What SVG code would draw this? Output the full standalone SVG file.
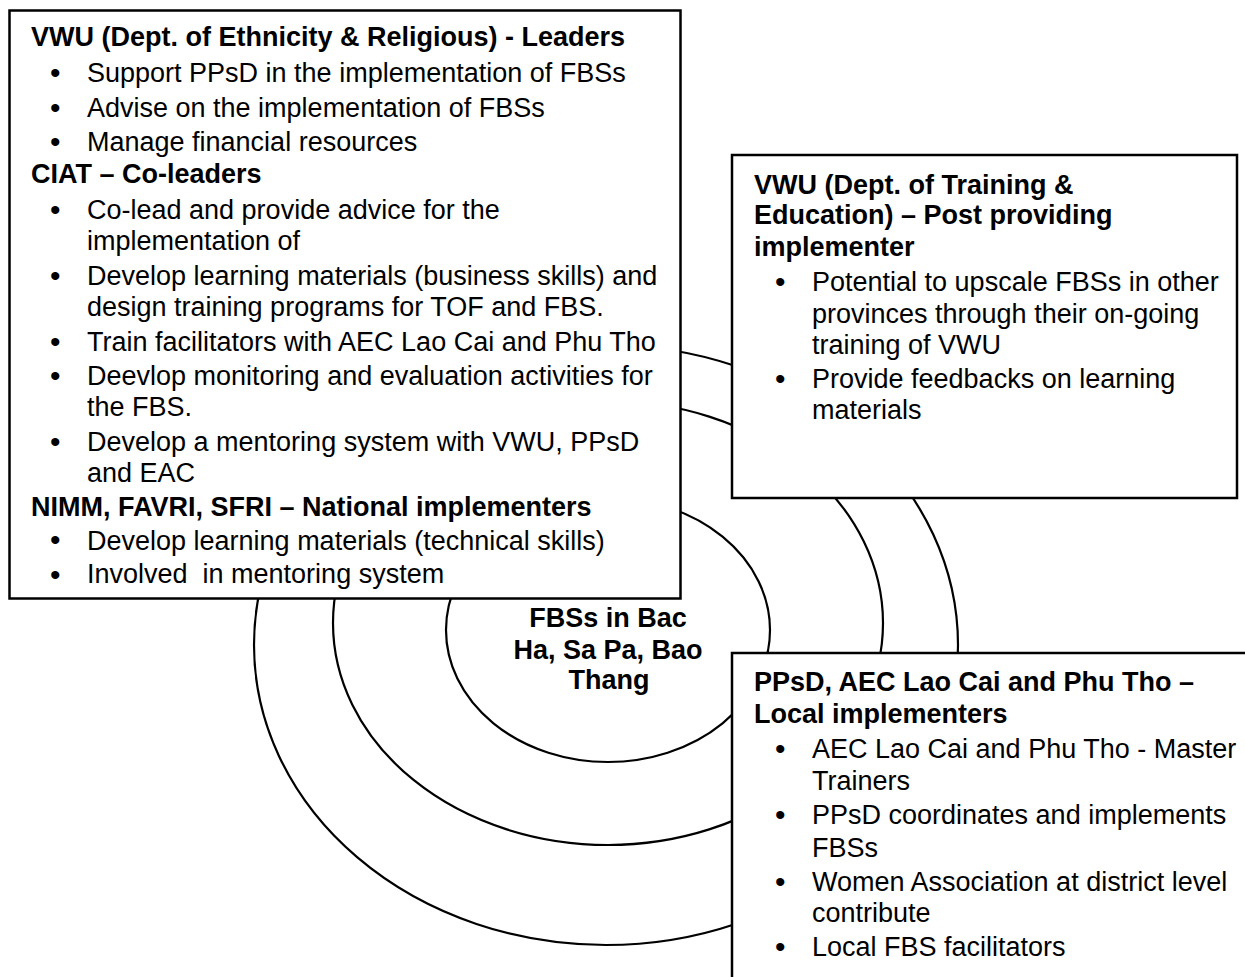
<svg xmlns="http://www.w3.org/2000/svg" width="1245" height="977" viewBox="0 0 1245 977">
<style>
.bg{fill:#ffffff}
.ring{fill:none;stroke:#000;stroke-width:2.2}
.box{fill:#ffffff;stroke:#000;stroke-width:2.5}
text{font-family:"Liberation Sans",Arial,sans-serif;font-size:27px;fill:#000}
.h{font-weight:bold}
.c{text-anchor:middle}
.b{font-size:30px}
</style>
<rect class="bg" x="0" y="0" width="1245" height="977"/>
<g id="rings">
<ellipse id="ring-outer" class="ring" cx="606" cy="645" rx="352" ry="300"/>
<ellipse id="ring-middle" class="ring" cx="608" cy="623" rx="275" ry="222"/>
<ellipse id="ring-inner" class="ring" cx="608" cy="630" rx="162" ry="132"/>
</g>
<g id="center">
<text class="h c" x="608" y="627">FBSs in Bac</text>
<text class="h c" x="608" y="659">Ha, Sa Pa, Bao</text>
<text class="h c" x="609" y="689">Thang</text>
</g>
<g id="box-leaders">
<rect class="box" x="9.5" y="10.5" width="671" height="588"/>
<text class="h" x="31" y="46">VWU (Dept. of Ethnicity &amp; Religious) - Leaders</text>
<text class="b" x="50" y="83">•</text><text x="87" y="82">Support PPsD in the implementation of FBSs</text>
<text class="b" x="50" y="118">•</text><text x="87" y="117">Advise on the implementation of FBSs</text>
<text class="b" x="50" y="152">•</text><text x="87" y="151">Manage financial resources</text>
<text class="h" x="31" y="183">CIAT – Co-leaders</text>
<text class="b" x="50" y="220">•</text><text x="87" y="219">Co-lead and provide advice for the</text>
<text x="87" y="250">implementation of</text>
<text class="b" x="50" y="286">•</text><text x="87" y="285">Develop learning materials (business skills) and</text>
<text x="87" y="316">design training programs for TOF and FBS.</text>
<text class="b" x="50" y="352">•</text><text x="87" y="351">Train facilitators with AEC Lao Cai and Phu Tho</text>
<text class="b" x="50" y="386">•</text><text x="87" y="385">Deevlop monitoring and evaluation activities for</text>
<text x="87" y="416">the FBS.</text>
<text class="b" x="50" y="452">•</text><text x="87" y="451">Develop a mentoring system with VWU, PPsD</text>
<text x="87" y="482">and EAC</text>
<text class="h" x="31" y="516">NIMM, FAVRI, SFRI – National implementers</text>
<text class="b" x="50" y="550">•</text><text x="87" y="550">Develop learning materials (technical skills)</text>
<text class="b" x="50" y="585">•</text><text x="87" y="583" xml:space="preserve">Involved  in mentoring system</text>
</g>
<g id="box-training">
<rect class="box" x="732" y="155" width="505" height="343"/>
<text class="h" x="754" y="194">VWU (Dept. of Training &amp;</text>
<text class="h" x="754" y="224">Education) – Post providing</text>
<text class="h" x="754" y="256">implementer</text>
<text class="b" x="775" y="292">•</text><text x="812" y="291">Potential to upscale FBSs in other</text>
<text x="812" y="323">provinces through their on-going</text>
<text x="812" y="354">training of VWU</text>
<text class="b" x="775" y="389">•</text><text x="812" y="388">Provide feedbacks on learning</text>
<text x="812" y="419">materials</text>
</g>
<g id="box-local">
<rect class="box" x="732" y="653" width="530" height="350"/>
<text class="h" x="754" y="691">PPsD, AEC Lao Cai and Phu Tho –</text>
<text class="h" x="754" y="723">Local implementers</text>
<text class="b" x="775" y="759">•</text><text x="812" y="758">AEC Lao Cai and Phu Tho - Master</text>
<text x="812" y="790">Trainers</text>
<text class="b" x="775" y="825">•</text><text x="812" y="824">PPsD coordinates and implements</text>
<text x="812" y="857">FBSs</text>
<text class="b" x="775" y="892">•</text><text x="812" y="891">Women Association at district level</text>
<text x="812" y="922">contribute</text>
<text class="b" x="775" y="957">•</text><text x="812" y="956">Local FBS facilitators</text>
</g>
<g id="connectors"/>
</svg>
